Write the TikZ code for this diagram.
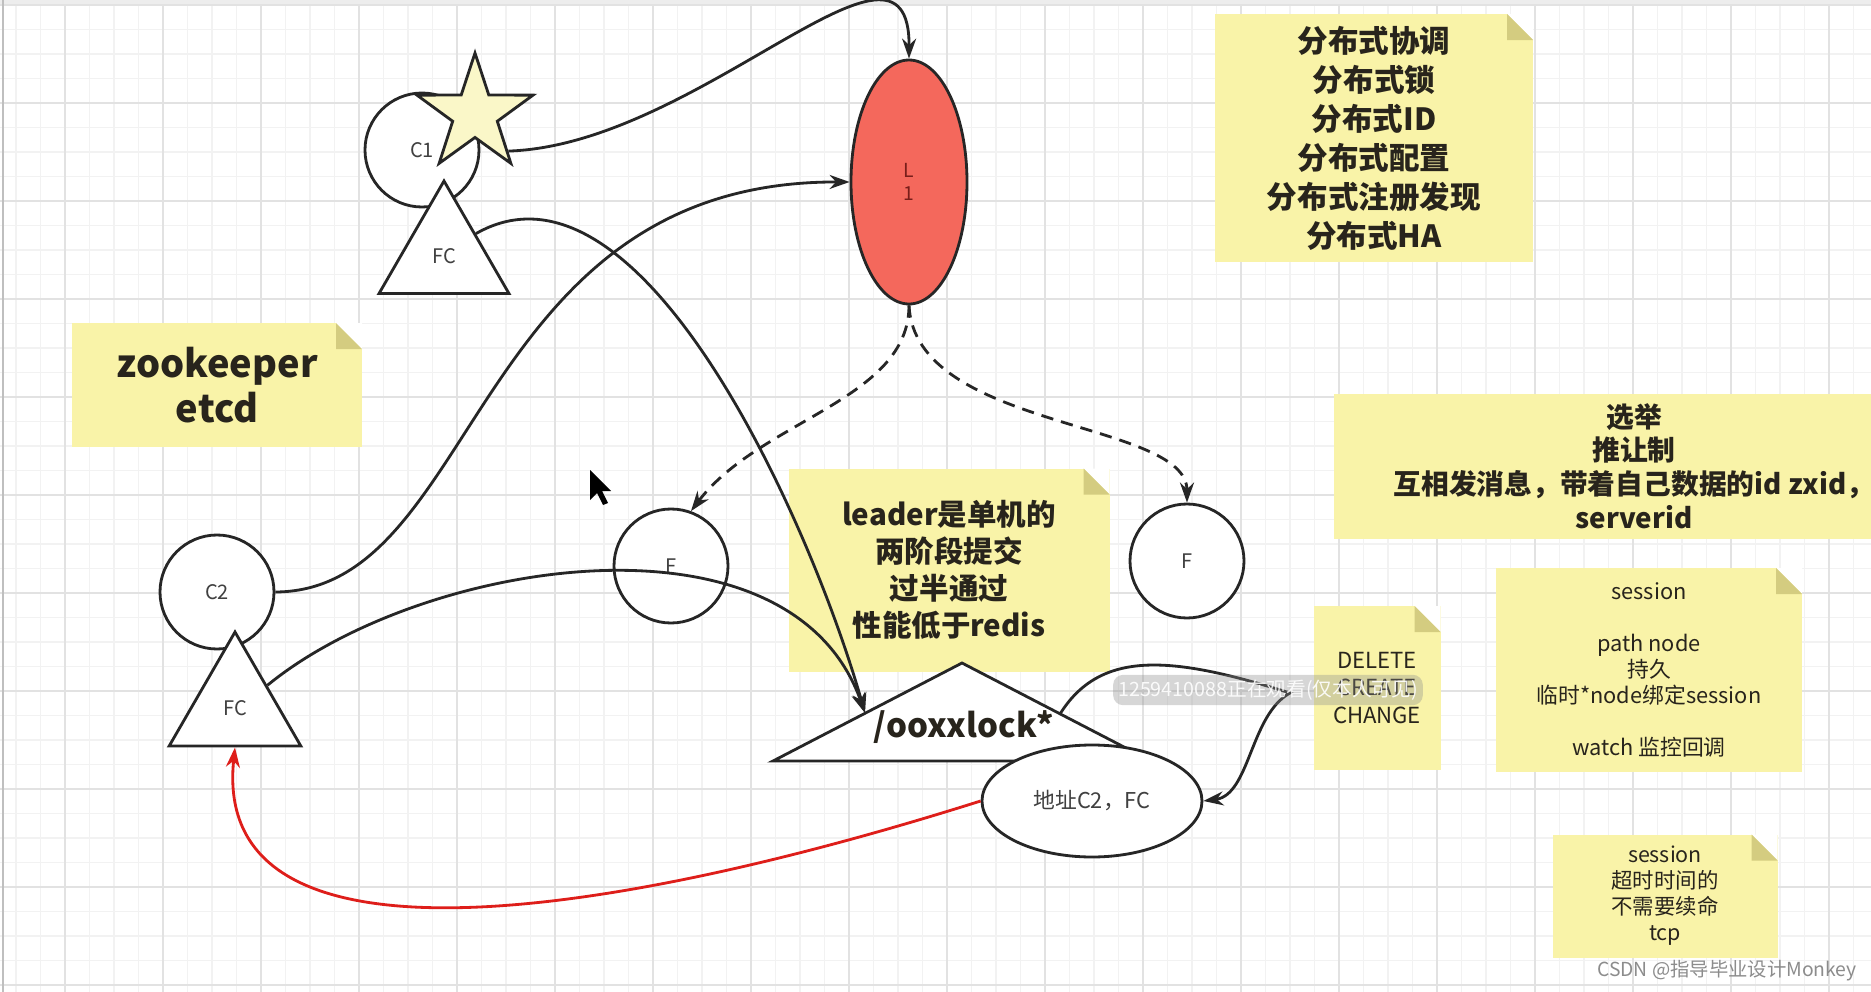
\documentclass[tikz,border=0pt]{standalone}
\usepackage{fontspec}
\setmainfont{Noto Sans CJK SC}
\usetikzlibrary{shapes.geometric, arrows.meta}

\definecolor{notefill}{RGB}{249,243,168}
\definecolor{notefold}{RGB}{212,204,128}
\definecolor{notetext}{RGB}{40,36,28}
\definecolor{labeltext}{RGB}{64,64,64}
\definecolor{leaderred}{RGB}{244,104,92}
\definecolor{leadertext}{RGB}{120,30,26}
\definecolor{starfill}{RGB}{250,247,200}
\definecolor{inkline}{RGB}{38,38,38}
\definecolor{gridminor}{RGB}{242,242,242}
\definecolor{gridmajor}{RGB}{226,226,226}
\definecolor{watchred}{RGB}{222,30,26}

\newcommand{\foldsize}{2.6mm}

\begin{document}
\begin{tikzpicture}[
    % one unit = one pixel of the board, y grows downwards
    x=0.1mm, y=-0.1mm,
    minorline/.style={draw=gridminor, line width=0.35pt},
    majorline/.style={draw=gridmajor, line width=0.5pt},
    % sticky notes with a folded corner
    notebox/.style={
        rectangle,
        fill=notefill,
        inner sep=0pt,
        align=center,
        text=notetext,
        path picture={
            \fill[white] (path picture bounding box.north east)
                -- ++(-\foldsize,0) -- ++(\foldsize,-\foldsize) -- cycle;
            \fill[notefold] (path picture bounding box.north east)
                ++(-\foldsize,0) -- ++(0,-\foldsize) -- ++(\foldsize,0) -- cycle;
        }
    },
    circlenode/.style={
        circle,
        draw=inkline,
        line width=0.8pt,
        fill=white,
        minimum size=11.4mm,
        inner sep=0pt,
        text=labeltext,
        font=\fontsize{5.7}{6.8}\selectfont
    },
    trinode/.style={
        regular polygon,
        regular polygon sides=3,
        draw=inkline,
        line width=0.8pt,
        fill=white,
        inner sep=0pt,
        text=labeltext,
        font=\fontsize{5.7}{6.8}\selectfont
    },
    starnode/.style={
        star,
        star points=5,
        star point ratio=2.6,
        draw=inkline,
        line width=0.8pt,
        fill=starfill,
        minimum size=12.2mm,
        inner sep=0pt
    },
    leadernode/.style={
        ellipse,
        draw=inkline,
        line width=0.8pt,
        fill=leaderred,
        minimum width=11.6mm,
        minimum height=24.4mm,
        inner sep=0pt,
        align=center,
        text=leadertext,
        font=\fontsize{5.5}{6.5}\selectfont
    },
    addrnode/.style={
        ellipse,
        draw=inkline,
        line width=0.8pt,
        fill=white,
        minimum width=22mm,
        minimum height=11.2mm,
        inner sep=0pt,
        text=labeltext,
        font=\fontsize{6.2}{7.4}\selectfont
    },
    shapeline/.style={draw=inkline, line width=0.8pt, fill=white},
    link/.style={
        -{Stealth[length=2mm, width=1.4mm]},
        line width=0.8pt,
        draw=inkline
    },
    synclink/.style={link, dash pattern=on 3.5pt off 2.3pt},
    notifylink/.style={link, draw=watchred}
]
\useasboundingbox (0,0) rectangle (1871,992);

% --- Board grid ---
\fill[white] (0,0) rectangle (1871,992);
\foreach \gx in {0,...,76}
    \draw[minorline] ({-8.5+24.5*\gx},0) -- ++(0,992);
\foreach \gy in {0,...,40}
    \draw[minorline] (0,{5+24.5*\gy}) -- ++(1871,0);
\foreach \gx in {1,...,19}
    \draw[majorline] ({-33+98*\gx},0) -- ++(0,992);
\foreach \gy in {0,...,10}
    \draw[majorline] (0,{5+98*\gy}) -- ++(1871,0);
\fill[black!7] (0,0) rectangle (1871,4);
\draw[black!25, line width=0.6pt] (3,0) -- (3,992);

% --- Notes ---
\node[notebox, font=\bfseries\fontsize{8.7}{11.1}\selectfont,
      minimum width=31.8mm, minimum height=24.8mm] (usecases) at (1374,138)
    {分布式协调\\分布式锁\\分布式ID\\分布式配置\\分布式注册发现\\分布式HA};
\node[notebox, font=\bfseries\fontsize{10.8}{12.8}\selectfont,
      minimum width=29mm, minimum height=12.4mm] (products) at (217,385)
    {zookeeper\\etcd};
% this note runs past the right border of the board
\fill[notefill] (1334,394) rectangle (1871,539);
\node[font=\bfseries\fontsize{7.9}{9.6}\selectfont, text=notetext, align=center,
      inner sep=0pt] (election) at (1634,466)
    {选举\\推让制\\互相发消息，带着自己数据的id zxid，\\serverid};
\node[notebox, font=\bfseries\fontsize{8.4}{10.5}\selectfont,
      minimum width=32.1mm, minimum height=20.3mm] (leadernote) at (949,570)
    {leader是单机的\\两阶段提交\\过半通过\\性能低于redis};
\node[notebox, font=\fontsize{6.3}{7.7}\selectfont,
      minimum width=12.7mm, minimum height=16.4mm] (events) at (1377,688)
    {DELETE\\CREATE\\CHANGE};
\node[notebox, font=\fontsize{6.2}{7.4}\selectfont,
      minimum width=30.6mm, minimum height=20.4mm] (session) at (1649,670)
    {session\\[7.4pt]path node\\持久\\临时*node绑定session\\[7.4pt]watch 监控回调};
\node[notebox, font=\fontsize{6.1}{7.4}\selectfont,
      minimum width=22.5mm, minimum height=12.3mm] (timeout) at (1665,896)
    {session\\超时时间的\\不需要续命\\tcp};

% --- Clients, leader and followers ---
\node[circlenode] (c1) at (422,150) {C1};
\node[starnode] (c1star) at (475,114) {};
\node[trinode, minimum size=15mm] (fc1) at (444,256) {FC};
\node[circlenode] (c2) at (217,592) {C2};
\node[trinode, minimum size=15.2mm] (fc2) at (235,708) {FC};
\node[circlenode] (f1) at (671,566) {F};
\node[circlenode] (f2) at (1187,561) {F};
\node[leadernode] (l1) at (909,182) {L\\1};

% lock node in the tree
\coordinate (locktop) at (962,663);
\coordinate (lockleft) at (773,761);
\coordinate (lockright) at (1151,761);
\coordinate (lockin) at (865,713);
\coordinate (lockout) at (1060,714);
\draw[shapeline] (locktop) -- (lockleft) -- (lockright) -- cycle;
\node[font=\bfseries\fontsize{9.4}{11}\selectfont, text=notetext] (lock) at (964,727) {/ooxxlock*};
\node[addrnode] (addr) at (1092,801) {地址C2，FC};

% --- Connections ---
\draw[link] (c1star.-48) .. controls (700,145) and (910,-100) .. (l1.north);
\draw[link] (c2.east) .. controls (480,591) and (470,181) .. (l1.west);
\draw[link] (fc1.35) .. controls (640,140) and (810,520) .. (lockin);
\draw[link] (fc2.35) .. controls (420,560) and (790,500) .. (lockin);
\draw[synclink] (l1.south) .. controls (909,400) and (760,420) .. (f1.70);
\draw[synclink] (l1.south) .. controls (915,430) and (1187,420) .. (f2.north);
\draw[link] (lockout) .. controls (1100,650) and (1170,655) .. (1290,693)
    .. controls (1250,715) and (1250,795) .. (addr.east);
% callback to the waiting client
\draw[notifylink] (addr.west) .. controls (620,915) and (210,985) .. (fc2.south);

% --- Screen overlays ---
\fill[black] (590,470) -- (590,500) -- (597,493) -- (603,505) -- (608,503)
    -- (602,491) -- (611,491) -- cycle;
\node[fill=black!45, fill opacity=0.35, text=white, text opacity=0.9,
      rounded corners=1mm, inner sep=0.5mm, font=\fontsize{5.6}{6.6}\selectfont]
    (viewer) at (1268,690) {1259410088正在观看(仅本人可见)};
\node[text=black!45, font=\fontsize{5.5}{6.5}\selectfont] (mark) at (1727,971)
    {CSDN @指导毕业设计Monkey};

\end{tikzpicture}
\end{document}
